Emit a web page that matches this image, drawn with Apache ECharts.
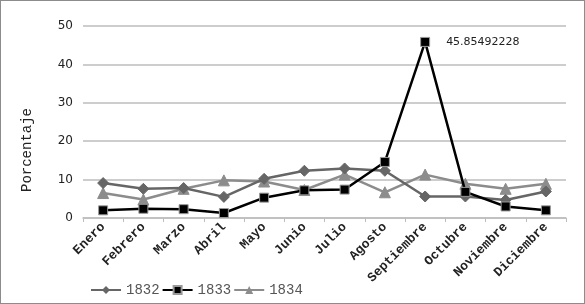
<!DOCTYPE html>
<html>
<head>
<meta charset="utf-8">
<script src="https://cdn.jsdelivr.net/npm/echarts@6/dist/echarts.min.js"></script>
<style>
  html, body { margin: 0; padding: 0; background: #fff; }
  #chart { width: 583px; height: 302px; border: 1px solid #8c8c8c; }
</style>
</head>
<body>
<div id="chart"></div>
<script>
    // meses
    let months = ['Enero', 'Febrero', 'Marzo', 'Abril', 'Mayo', 'Junio', 'Julio', 'Agosto', 'Septiembre', 'Octubre', 'Noviembre', 'Diciembre'];
    // valores por año (porcentaje)
    let data1832 = [9.1, 7.6, 7.8, 5.5, 10.2, 12.3, 12.9, 12.3, 5.6, 5.6, 4.7, 6.9];
    let data1833 = [2.0, 2.4, 2.3, 1.3, 5.3, 7.2, 7.4, 14.6, 45.85492228, 6.8, 3.0, 2.0];
    let data1834 = [6.5, 4.8, 7.6, 9.8, 9.5, 7.3, 11.3, 6.7, 11.3, 8.9, 7.6, 8.9];
    let yTicks = [0, 10, 20, 30, 40, 50];

    let chart = echarts.init(document.getElementById('chart'));
    let mono = 'Liberation Mono';

    let option = {
        animation: false,
        grid: { left: 82, right: 18, top: 25, bottom: 85 },
        legend: {
            left: 84,
            top: 277,
            itemGap: 2,
            itemWidth: 30,
            itemHeight: 10,
            textStyle: { fontFamily: mono, fontSize: 14, color: '#555' },
            data: ['1832', '1833', '1834']
        },
        xAxis: {
            type: 'category',
            data: months,
            boundaryGap: true,
            axisLine: { lineStyle: { color: '#bdbdbd', width: 1.5 } },
            axisTick: { show: true, length: 4, lineStyle: { color: '#bdbdbd' } },
            axisLabel: {
                interval: 0,
                rotate: 45,
                margin: 7,
                fontFamily: mono,
                fontWeight: 'bold',
                fontSize: 13,
                color: '#222'
            }
        },
        yAxis: {
            type: 'value',
            min: yTicks[0],
            max: yTicks[yTicks.length - 1],
            interval: 10,
            name: 'Porcentaje',
            nameLocation: 'middle',
            nameGap: 49,
            nameTextStyle: { fontFamily: mono, fontSize: 14, color: '#222', padding: [0, 56, 0, 0] },
            axisLine: { show: false },
            axisTick: { show: false },
            axisLabel: { fontFamily: 'DejaVu Sans', fontSize: 12, color: '#222', margin: 10 },
            splitLine: { lineStyle: { color: '#bdbdbd', width: 1.5 } }
        },
        series: [
            {
                name: '1832',
                type: 'line',
                data: data1832,
                symbol: 'diamond',
                symbolSize: 11,
                lineStyle: { color: '#666', width: 2.5 },
                itemStyle: { color: '#666', borderColor: '#666' },
                z: 3
            },
            {
                name: '1833',
                type: 'line',
                data: data1833,
                symbol: 'rect',
                symbolSize: 9,
                lineStyle: { color: '#000', width: 2.5 },
                itemStyle: { color: '#000', borderColor: '#999', borderWidth: 1 },
                label: {
                    show: true,
                    position: 'right',
                    distance: 16,
                    fontFamily: 'DejaVu Sans',
                    fontSize: 11,
                    color: '#222',
                    formatter: function (p) {
                        return p.dataIndex === 8 ? String(p.value) : '';
                    }
                },
                z: 4
            },
            {
                name: '1834',
                type: 'line',
                data: data1834,
                symbol: 'triangle',
                symbolSize: 11,
                lineStyle: { color: '#8c8c8c', width: 2.5 },
                itemStyle: { color: '#8c8c8c', borderColor: '#8c8c8c' },
                z: 2
            }
        ]
    };

    chart.setOption(option);
</script>
</body>
</html>
